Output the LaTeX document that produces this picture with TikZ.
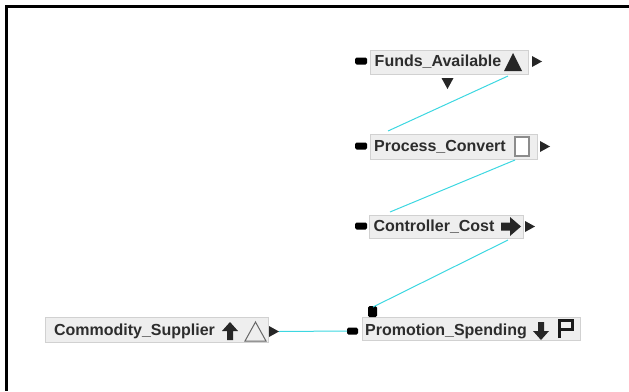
\documentclass[tikz,border=0pt]{standalone}
\usepackage{fontspec}
\setmainfont{Liberation Sans}
\usetikzlibrary{shadows}
\definecolor{linkcyan}{RGB}{60,215,225}
\definecolor{boxfill}{RGB}{238,238,238}
\definecolor{txt}{RGB}{45,45,45}
\begin{document}
\begin{tikzpicture}[x=1pt,y=-1pt,
  box/.style={draw=black!18, fill=boxfill, inner sep=0pt, anchor=north west,
    drop shadow={shadow xshift=1.2pt, shadow yshift=-1.2pt, fill=black!35, opacity=1}},
  lbl/.style={font=\fontsize{16}{18}\selectfont\bfseries, text=txt, inner sep=0pt},
  port/.style={fill=black, rounded corners=1.5pt},
  tip/.style={fill=black!85},
  link/.style={draw=linkcyan, line width=1pt}]
\useasboundingbox (0,0) rectangle (629,391);
% frame
\draw[line width=3pt] (629,6) -- (6,6) -- (6,391);

% boxes
\node[box, minimum width=158pt, minimum height=24pt] (fa) at (370,50) {};
\node[box, minimum width=167pt, minimum height=25pt] (pc) at (370,134) {};
\node[box, minimum width=154pt, minimum height=23pt] (cc) at (369,215) {};
\node[box, minimum width=223pt, minimum height=25pt] (cs) at (45,317) {};
\node[box, minimum width=218pt, minimum height=23pt] (ps) at (362,317) {};

% labels
\node[lbl] (fat) at (438,61.5) {Funds\_Available};
\node[lbl] (pct) at (440,146.5) {Process\_Convert};
\node[lbl] (cct) at (434,226.5) {Controller\_Cost};
\node[lbl] (cst) at (134.5,331.5) {Commodity\_Supplier};
\node[lbl] (pst) at (446,331.5) {Promotion\_Spending};

% icons
\fill[tip] (504,71) -- (522,71) -- (513,53) -- cycle; % up triangle
\draw[black!45, fill=white, line width=1.2pt] (515,137) rectangle (529,156); % square
\fill[tip] (501,222.5) -- (510,222.5) -- (510,217) -- (521,226.5) -- (510,236) -- (510,230.5) -- (501,230.5) -- cycle; % right arrow
\fill[tip] (230,322) -- (238,331) -- (233,331) -- (233,340) -- (227,340) -- (227,331) -- (222,331) -- cycle; % up arrow
\draw[black!60, line width=1pt, line join=miter] (245,341) -- (266,341) -- (255.5,322) -- cycle; % hollow triangle
\fill[tip] (541,340) -- (549,331) -- (544,331) -- (544,322) -- (538,322) -- (538,331) -- (533,331) -- cycle; % down arrow
\draw[black!90, line width=3pt] (559,338) -- (559,320) -- (572,320) -- (572,329) -- (559,329); % flag

% ports
\fill[port] (355,57.5) rectangle (367,64.5);
\fill[port] (355,142.5) rectangle (367,149.5);
\fill[port] (355,222.5) rectangle (367,229.5);
\fill[port] (347,327.5) rectangle (358,334.5);
\fill[port] (368,306) rectangle (377,317);
\fill[tip] (532,56) -- (542,61.5) -- (532,67) -- cycle;
\fill[tip] (540,141) -- (550,146.5) -- (540,152) -- cycle;
\fill[tip] (525,221) -- (535,226.5) -- (525,232) -- cycle;
\fill[tip] (269,326) -- (279,331.5) -- (269,337) -- cycle;
\fill[tip] (441.5,78) -- (453.5,78) -- (447.5,89) -- cycle;

% link end points
\coordinate (fa-out) at (508,76);
\coordinate (pc-in) at (388,131);
\coordinate (pc-out) at (515,160);
\coordinate (cc-in) at (390,212);
\coordinate (cc-out) at (508,240);
\coordinate (ps-top) at (373,307);
\coordinate (cs-out) at (279,331.5);
\coordinate (ps-in) at (347,331);

% links
\draw[link] (fa-out) -- (pc-in);
\draw[link] (pc-out) -- (cc-in);
\draw[link] (cc-out) -- (ps-top);
\draw[link] (cs-out) -- (ps-in);
\end{tikzpicture}
\end{document}
